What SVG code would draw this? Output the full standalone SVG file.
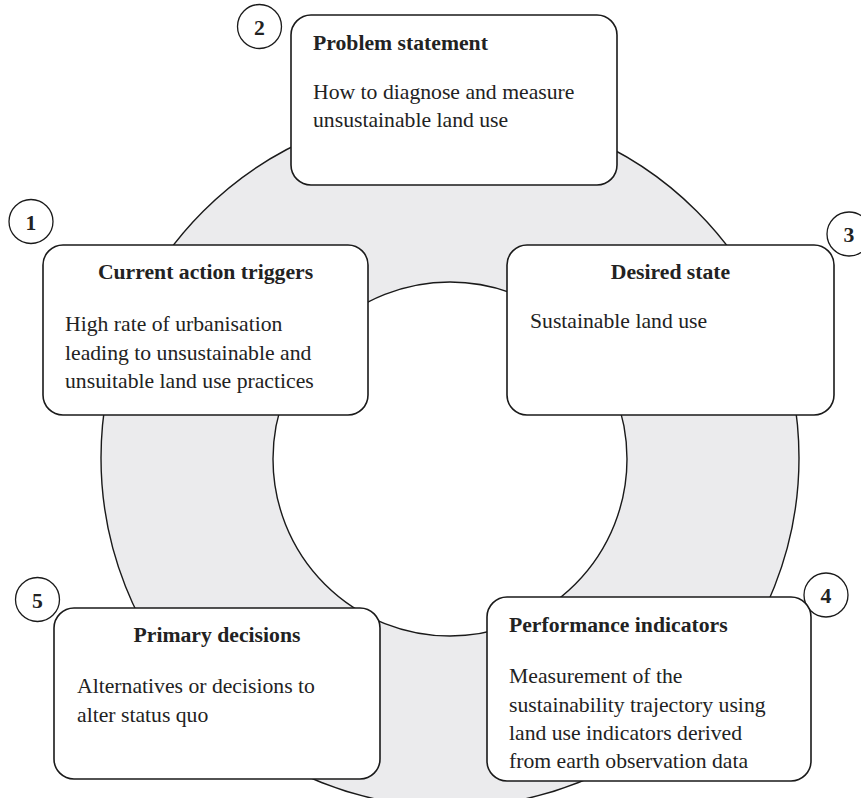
<svg xmlns="http://www.w3.org/2000/svg" width="861" height="798" viewBox="0 0 861 798">
<style>
.ring{fill:#ebebed;stroke:#1a1a1a;stroke-width:1.4;fill-rule:evenodd}
.box{fill:#fff;stroke:#1a1a1a;stroke-width:1.6}
.num{fill:#fff;stroke:#1a1a1a;stroke-width:1.3}
text{font-family:"Liberation Serif","Times New Roman",serif;font-size:21.7px;fill:#222}
.t{font-weight:bold}
.c{text-anchor:middle}
</style>
<rect width="861" height="798" fill="#fff"/>
<g id="connectors">
<path class="ring" d="M101,458 A349,349 0 1,0 799,458 A349,349 0 1,0 101,458 Z M273,459 A177,177 0 1,0 627,459 A177,177 0 1,0 273,459 Z"/>
</g>
<g id="node2">
<circle class="num" cx="259.5" cy="26.5" r="22"/>
<text class="t c" x="259.5" y="34.5">2</text>
<rect class="box" x="291" y="15" width="326" height="170" rx="20"/>
<text class="t" x="313" y="50">Problem statement</text>
<text x="313" y="99">How to diagnose and measure</text>
<text x="313" y="127">unsustainable land use</text>
</g>
<g id="node1">
<circle class="num" cx="31" cy="221.5" r="22"/>
<text class="t c" x="31" y="229.5">1</text>
<rect class="box" x="43" y="245" width="325" height="170" rx="20"/>
<text class="t c" x="205.5" y="279">Current action triggers</text>
<text x="65" y="331">High rate of urbanisation</text>
<text x="65" y="359.5">leading to unsustainable and</text>
<text x="65" y="388">unsuitable land use practices</text>
</g>
<g id="node3">
<circle class="num" cx="849" cy="234" r="22"/>
<text class="t c" x="849" y="242">3</text>
<rect class="box" x="507" y="245" width="327" height="170" rx="20"/>
<text class="t c" x="670.5" y="279">Desired state</text>
<text x="530" y="328">Sustainable land use</text>
</g>
<g id="node4">
<circle class="num" cx="826" cy="595" r="22"/>
<text class="t c" x="826" y="603">4</text>
<rect class="box" x="487" y="597" width="324" height="184" rx="20"/>
<text class="t" x="509" y="632">Performance indicators</text>
<text x="509" y="683">Measurement of the</text>
<text x="509" y="711.5">sustainability trajectory using</text>
<text x="509" y="740">land use indicators derived</text>
<text x="509" y="768">from earth observation data</text>
</g>
<g id="node5">
<circle class="num" cx="37.5" cy="599.5" r="22"/>
<text class="t c" x="37.5" y="607.5">5</text>
<rect class="box" x="54" y="608" width="326" height="171" rx="20"/>
<text class="t c" x="217" y="642">Primary decisions</text>
<text x="77" y="693">Alternatives or decisions to</text>
<text x="77" y="722">alter status quo</text>
</g>
</svg>
